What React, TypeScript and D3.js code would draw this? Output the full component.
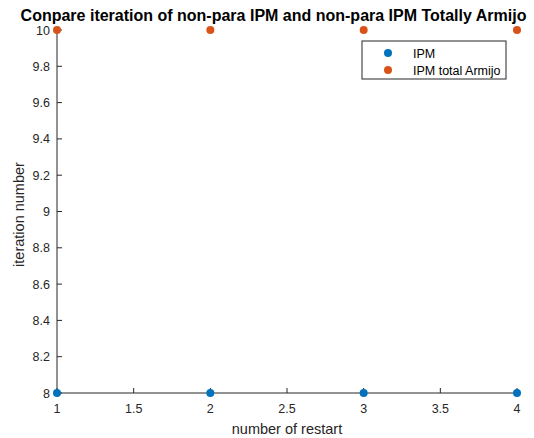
import React, { useEffect, useRef } from "react";
import * as d3 from "d3";

const restarts = [1, 2, 3, 4];
const ipmIter = [8, 8, 8, 8];
const armijoIter = [10, 10, 10, 10];
const xTicks = [1, 1.5, 2, 2.5, 3, 3.5, 4];
const yTicks = [8, 8.2, 8.4, 8.6, 8.8, 9, 9.2, 9.4, 9.6, 9.8, 10];
const seriesNames = ["IPM", "IPM total Armijo"];
const seriesColors = ["#0072BD", "#D95319"];

const App: React.FC = () => {
  const ref = useRef<SVGSVGElement>(null);

  useEffect(() => {
    const svg = d3.select(ref.current);
    svg.selectAll("*").remove();
    const font = "Liberation Sans, Arial, sans-serif";
    const axisColor = "#262626";

    const x = d3.scaleLinear().domain([1, 4]).range([57, 517]);
    const y = d3.scaleLinear().domain([8, 10]).range([393, 30]);

    svg.append("rect").attr("width", 534).attr("height", 438).attr("fill", "#fff");

    // axes lines
    svg.append("line")
      .attr("x1", x(1)).attr("x2", x(4)).attr("y1", y(8)).attr("y2", y(8))
      .attr("stroke", axisColor).attr("stroke-width", 1);
    svg.append("line")
      .attr("x1", x(1)).attr("x2", x(1)).attr("y1", y(8)).attr("y2", y(10))
      .attr("stroke", axisColor).attr("stroke-width", 1);

    // x ticks
    const xt = svg.append("g").selectAll("g").data(xTicks).enter().append("g");
    xt.append("line")
      .attr("x1", (d) => x(d)).attr("x2", (d) => x(d))
      .attr("y1", y(8)).attr("y2", y(8) - 5)
      .attr("stroke", axisColor);
    xt.append("text")
      .attr("x", (d) => x(d)).attr("y", y(8) + 20)
      .attr("text-anchor", "middle")
      .attr("font-family", font).attr("font-size", 12.5).attr("fill", axisColor)
      .text((d) => String(d));

    // y ticks
    const yt = svg.append("g").selectAll("g").data(yTicks).enter().append("g");
    yt.append("line")
      .attr("x1", x(1)).attr("x2", x(1) + 5)
      .attr("y1", (d) => y(d)).attr("y2", (d) => y(d))
      .attr("stroke", axisColor);
    yt.append("text")
      .attr("x", x(1) - 7).attr("y", (d) => y(d) + 4.5)
      .attr("text-anchor", "end")
      .attr("font-family", font).attr("font-size", 12.5).attr("fill", axisColor)
      .text((d) => String(+d.toFixed(1)));

    // series
    const series = [ipmIter, armijoIter];
    series.forEach((vals, i) => {
      svg.append("g").selectAll("circle").data(vals).enter().append("circle")
        .attr("cx", (_, j) => x(restarts[j]))
        .attr("cy", (d) => y(d))
        .attr("r", 4)
        .attr("fill", seriesColors[i]);
    });

    // title
    svg.append("text")
      .attr("x", 273.5).attr("y", 21)
      .attr("text-anchor", "middle")
      .attr("font-family", font).attr("font-size", 16).attr("font-weight", "bold")
      .attr("fill", "#000")
      .text("Conpare iteration of non-para IPM and non-para IPM Totally Armijo");

    // axis labels
    svg.append("text")
      .attr("x", (x(1) + x(4)) / 2).attr("y", 434)
      .attr("text-anchor", "middle")
      .attr("font-family", font).attr("font-size", 14.5).attr("fill", axisColor)
      .text("number of restart");
    svg.append("text")
      .attr("transform", `translate(24, ${(y(8) + y(10)) / 2 + 3}) rotate(-90)`)
      .attr("text-anchor", "middle")
      .attr("font-family", font).attr("font-size", 14.5).attr("fill", axisColor)
      .text("iteration number");

    // legend
    const lg = svg.append("g").attr("transform", "translate(362, 41)");
    lg.append("rect")
      .attr("width", 144).attr("height", 38)
      .attr("fill", "#fff").attr("stroke", axisColor).attr("stroke-width", 1);
    seriesNames.forEach((name, i) => {
      lg.append("circle")
        .attr("cx", 26).attr("cy", 12 + i * 17)
        .attr("r", 4).attr("fill", seriesColors[i]);
      lg.append("text")
        .attr("x", 51).attr("y", 16.5 + i * 17)
        .attr("font-family", font).attr("font-size", 12.5).attr("fill", "#000")
        .text(name);
    });
  }, []);

  return (
    <svg
      ref={ref}
      width={534}
      height={438}
      style={{ position: "absolute", left: 0, top: 0 }}
    />
  );
};

export default App;
